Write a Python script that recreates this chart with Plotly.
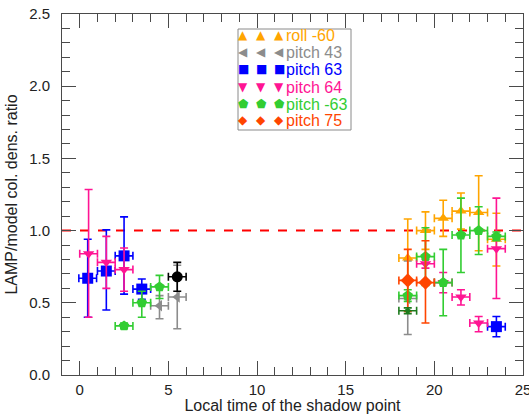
import plotly.graph_objects as go

# ---------------- data ----------------
roll_m60_x = [18.5, 19.5, 20.5, 21.5, 22.5, 23.5]
roll_m60_y = [0.81, 1.00, 1.085, 1.135, 1.125, 0.94]
roll_m60_ep = [0.27, 0.13, 0.125, 0.125, 0.255, 0.18]
roll_m60_em = [0.27, 0.13, 0.125, 0.125, 0.265, 0.185]

pitch43_x = [4.5, 5.5, 18.5]
pitch43_y = [0.48, 0.54, 0.53]
pitch43_ep = [0.07, 0.22, 0.26]
pitch43_em = [0.09, 0.22, 0.25]

pitch63_x = [0.45, 1.5, 2.5, 3.5, 23.5]
pitch63_y = [0.67, 0.72, 0.825, 0.595, 0.335]
pitch63_ep = [0.27, 0.285, 0.27, 0.07, 0.07]
pitch63_em = [0.27, 0.27, 0.265, 0.07, 0.07]

pitch64_x = [0.5, 1.5, 2.5, 19.5, 20.5, 21.5, 22.5, 23.5]
pitch64_y = [0.84, 0.78, 0.73, 0.77, 0.64, 0.54, 0.36, 0.875]
pitch64_ep = [0.445, 0.18, 0.15, 0.03, 0.07, 0.05, 0.045, 0.35]
pitch64_em = [0.44, 0.18, 0.15, 0.03, 0.07, 0.055, 0.06, 0.345]

pitch_m63_x = [2.5, 3.5, 4.5, 18.5, 19.5, 20.5, 21.5, 22.5, 23.5]
pitch_m63_y = [0.34, 0.50, 0.61, 0.55, 0.82, 0.64, 0.97, 1.0, 0.96]
pitch_m63_ep = [0.02, 0.08, 0.08, 0.04, 0.2, 0.23, 0.255, 0.165, 0.03]
pitch_m63_em = [0.02, 0.10, 0.08, 0.04, 0.2, 0.23, 0.26, 0.165, 0.03]

pitch75_x = [18.5, 19.5]
pitch75_y = [0.655, 0.64]
pitch75_ep = [0.215, 0.29]
pitch75_em = [0.215, 0.28]

extra_dkgreen_x = [18.5]
extra_dkgreen_y = [0.445]
extra_dkgreen_e = [0.02]

extra_black_x = [5.5]
extra_black_y = [0.68]
extra_black_e = [0.10]

x_half_width = 0.5
ref_level = 1.0

series = [
    ("pitch 43", pitch43_x, pitch43_y, pitch43_ep, pitch43_em, "#8c8c8c", "triangle-left", 10),
    ("roll -60", roll_m60_x, roll_m60_y, roll_m60_ep, roll_m60_em, "#FFA500", "triangle-up", 10),
    ("pitch 63", pitch63_x, pitch63_y, pitch63_ep, pitch63_em, "#0000FF", "square", 11),
    ("pitch 64", pitch64_x, pitch64_y, pitch64_ep, pitch64_em, "#FF1493", "triangle-down", 10),
    ("pitch -63", pitch_m63_x, pitch_m63_y, pitch_m63_ep, pitch_m63_em, "#32CD32", "pentagon", 11),
    ("pitch 75", pitch75_x, pitch75_y, pitch75_ep, pitch75_em, "#FF4500", "diamond", 11),
    ("", extra_dkgreen_x, extra_dkgreen_y, extra_dkgreen_e, extra_dkgreen_e, "#1E7B1E", "pentagon", 6),
    ("", extra_black_x, extra_black_y, extra_black_e, extra_black_e, "#000000", "circle", 11),
]

legend_rows = [
    ("roll -60", "#FFA500", "▲"),
    ("pitch 43", "#8c8c8c", "◀"),
    ("pitch 63", "#0000FF", "■"),
    ("pitch 64", "#FF1493", "▼"),
    ("pitch -63", "#32CD32", "⬟"),
    ("pitch 75", "#FF4500", "◆"),
]

fig = go.Figure()

for name, xs, ys, ep, em, col, sym, size in series:
    fig.add_trace(go.Scatter(
        x=xs, y=ys, mode="markers", name=name, showlegend=False,
        marker=dict(symbol=sym, size=size, color=col, line=dict(width=0)),
        error_y=dict(type="data", symmetric=False, array=ep, arrayminus=em,
                     color=col, thickness=1.6, width=4),
        error_x=dict(type="data", array=[x_half_width] * len(xs),
                     color=col, thickness=1.6, width=4),
    ))

fig.add_shape(type="line", xref="paper", x0=0, x1=1, yref="y", y0=ref_level, y1=ref_level,
              line=dict(color="#FF0000", width=2, dash="dash"), layer="below")

# legend box (custom, three symbols per row as in the original)
L, R, T, B = 62, 523, 14, 375
W, H = R - L, B - T
def px(x):
    return (x - L) / W
def py(y):
    return (B - y) / H

fig.add_shape(type="rect", xref="paper", yref="paper",
              x0=px(238), x1=px(351), y0=py(130), y1=py(29),
              line=dict(color="#8a8a8a", width=1), fillcolor="white", layer="above")

row_y = [35, 52.3, 69.3, 87, 104, 120.5]
sym_x = [243, 261, 279]
for (label, col, glyph), ry in zip(legend_rows, row_y):
    for sx in sym_x:
        fig.add_annotation(xref="paper", yref="paper", x=px(sx), y=py(ry),
                           text=glyph, showarrow=False, xanchor="center", yanchor="middle",
                           font=dict(family="DejaVu Sans", size=12, color=col))
    fig.add_annotation(xref="paper", yref="paper", x=px(284), y=py(ry + 0.5),
                       text=label, showarrow=False, xanchor="left", yanchor="middle",
                       font=dict(family="Liberation Sans", size=16, color=col))

axis_common = dict(
    showline=True, linecolor="#4a4a4a", linewidth=1, mirror="allticks",
    ticks="inside", ticklen=14, tickcolor="#4a4a4a", tickwidth=1,
    showgrid=False, zeroline=False,
    tickfont=dict(family="Liberation Sans", size=15, color="#222"),
)

fig.update_xaxes(range=[-1, 25], tickvals=[0, 5, 10, 15, 20, 25],
                 minor=dict(ticks="inside", ticklen=8, dtick=1, tick0=0, tickcolor="#4a4a4a", showgrid=False),
                 title=dict(text="Local time of the shadow point",
                            font=dict(family="Liberation Sans", size=16, color="#222"), standoff=2),
                 ticklabelstandoff=1, ticklabeloverflow="allow",
                 **axis_common)
fig.update_yaxes(range=[0, 2.5], tickvals=[0, 0.5, 1.0, 1.5, 2.0, 2.5], tickformat=".1f",
                 minor=dict(ticks="inside", ticklen=8, dtick=0.1, tick0=0, tickcolor="#4a4a4a", showgrid=False),
                 title=dict(text="LAMP/model col. dens. ratio",
                            font=dict(family="Liberation Sans", size=16, color="#222"), standoff=7),
                 ticklabelstandoff=8,
                 **axis_common)

fig.update_layout(
    width=529, height=414,
    margin=dict(l=L, r=529 - R, t=T, b=414 - B, autoexpand=False),
    plot_bgcolor="white", paper_bgcolor="white",
    showlegend=False,
)

fig.write_html("out.html")
